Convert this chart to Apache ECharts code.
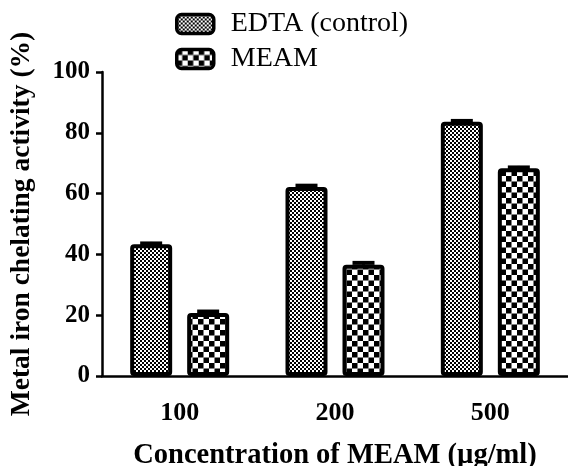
<!DOCTYPE html>
<html>
<head>
<meta charset="utf-8">
<script src="https://cdn.jsdelivr.net/npm/echarts@6/dist/echarts.min.js"></script>
<style>
html,body{margin:0;padding:0;background:#fff;}
#chart{width:568px;height:466px;}
</style>
</head>
<body>
<div id="chart"></div>
<script>
var categories = ['100', '200', '500'];
var edtaValues = [43.3, 62.2, 83.6];
var edtaErrors = [0.8, 0.9, 0.8];
var meamValues = [20.7, 36.6, 68.3];
var meamErrors = [1.0, 1.1, 0.8];
var yTicks = [0, 20, 40, 60, 80, 100];
var seriesNames = ['EDTA (control)', 'MEAM'];

function makePattern(size, cell, dot) {
  var c = document.createElement('canvas');
  c.width = size; c.height = size;
  var ctx = c.getContext('2d');
  ctx.fillStyle = '#fff';
  ctx.fillRect(0, 0, size, size);
  ctx.fillStyle = '#000';
  ctx.fillRect(0, 0, dot, dot);
  ctx.fillRect(cell, cell, dot, dot);
  return c;
}
var finePattern = { image: makePattern(4, 2, 2), repeat: 'repeat' };
var coarsePattern = { image: makePattern(11, 5.5, 5.5), repeat: 'repeat' };

var FONT = 'Liberation Serif';
var BAR_W = 42, BAR_GAP = 15;
var OFFSET = (BAR_W + BAR_GAP) / 2;

function errorRender(values, errors, dir) {
  return function (params, api) {
    var i = api.value(0);
    var v = values[i], e = errors[i];
    var p0 = api.coord([i, v]);
    var p1 = api.coord([i, v + e]);
    var x = p0[0] + dir * OFFSET;
    return {
      type: 'group',
      children: [
        { type: 'line', shape: { x1: x, y1: p0[1], x2: x, y2: p1[1] }, style: { stroke: '#000', lineWidth: 3 } },
        { type: 'line', shape: { x1: x - 11, y1: p1[1] + 1.5, x2: x + 11, y2: p1[1] + 1.5 }, style: { stroke: '#000', lineWidth: 4 } }
      ]
    };
  };
}

var chart = echarts.init(document.getElementById('chart'));
chart.setOption({
  animation: false,
  backgroundColor: '#fff',
  grid: { left: 102, right: 0, top: 72, bottom: 90, containLabel: false, outerBoundsMode: 'none' },
  legend: {
    orient: 'vertical',
    left: 175,
    top: 10,
    padding: 0,
    itemWidth: 37,
    itemHeight: 19,
    itemGap: 7,
    data: seriesNames,
    itemStyle: { borderColor: '#000', borderWidth: 3.5 },
    textStyle: { fontFamily: FONT, fontSize: 28, color: '#000', padding: [0, 0, 0, 12] }
  },
  xAxis: {
    type: 'category',
    data: categories,
    name: 'Concentration of MEAM (\u00b5g/ml)',
    nameLocation: 'middle',
    nameGap: 65,
    nameTextStyle: { fontFamily: FONT, fontWeight: 'bold', fontSize: 28.5, color: '#000' },
    axisLine: { lineStyle: { color: '#000', width: 2.5 } },
    axisTick: { alignWithLabel: true, length: 6, lineStyle: { color: '#000', width: 2.5 } },
    axisLabel: { margin: 24, fontFamily: FONT, fontWeight: 'bold', fontSize: 26, color: '#000' },
    splitLine: { show: false }
  },
  yAxis: {
    type: 'value',
    min: 0, max: 100, interval: 20,
    name: 'Metal iron chelating activity (%)',
    nameLocation: 'middle',
    nameGap: 66,
    nameTextStyle: { fontFamily: FONT, fontWeight: 'bold', fontSize: 27.5, color: '#000' },
    axisLine: { show: true, lineStyle: { color: '#000', width: 2.5 } },
    axisTick: { show: true, length: 6, lineStyle: { color: '#000', width: 2.5 } },
    axisLabel: { margin: 12, fontFamily: FONT, fontWeight: 'bold', fontSize: 25, color: '#000',
      formatter: function (v) { return yTicks.indexOf(v) >= 0 ? String(v) : ''; } },
    splitLine: { show: false }
  },
  series: [
    {
      name: seriesNames[0], type: 'bar', data: edtaValues,
      barWidth: BAR_W, barGap: (BAR_GAP / BAR_W * 100) + '%',
      itemStyle: { color: finePattern, borderColor: '#000', borderWidth: 4, borderRadius: 2 }
    },
    {
      name: seriesNames[1], type: 'bar', data: meamValues,
      barWidth: BAR_W,
      itemStyle: { color: coarsePattern, borderColor: '#000', borderWidth: 4, borderRadius: 2 }
    },
    {
      type: 'custom', data: categories.map(function (c, i) { return [i]; }),
      renderItem: errorRender(edtaValues, edtaErrors, -1), z: 5, silent: true
    },
    {
      type: 'custom', data: categories.map(function (c, i) { return [i]; }),
      renderItem: errorRender(meamValues, meamErrors, 1), z: 5, silent: true
    }
  ]
});
</script>
</body>
</html>
